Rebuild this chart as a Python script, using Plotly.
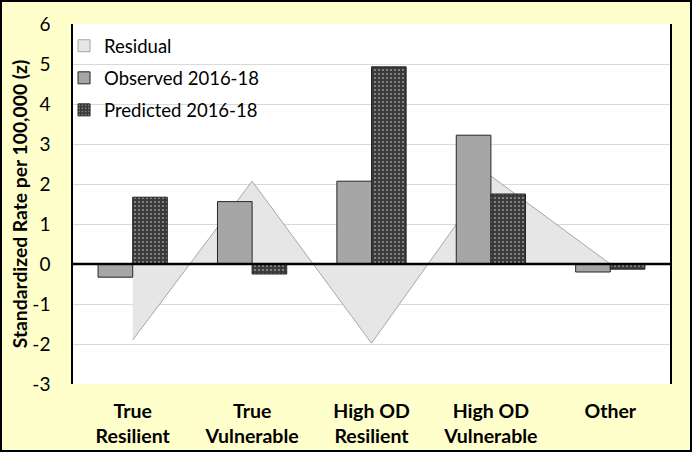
import plotly.graph_objects as go

categories = ["True<br>Resilient", "True<br>Vulnerable", "High OD<br>Resilient", "High OD<br>Vulnerable", "Other"]
residual = [-1.9, 2.07, -1.98, 2.2, 0.0]
observed = [-0.33, 1.56, 2.07, 3.22, -0.2]
predicted = [1.67, -0.25, 4.93, 1.75, -0.13]
y_ticks = [-3, -2, -1, 0, 1, 2, 3, 4, 5, 6]
y_tick_labels = ["-3", "-2", "-1", "0", "1", "2", "3", "4", "5", "6"]

FONT = "Lato"
RES_FILL, RES_LINE = "#E6E6E6", "#A6A6A6"

fig = go.Figure()
# residual area on the main axes (drawn below the bars)
fig.add_trace(go.Scatter(
    x=categories, y=residual, name="Residual", mode="lines",
    fill="tozeroy", fillcolor=RES_FILL,
    line=dict(color=RES_LINE, width=1),
    showlegend=False, xaxis="x", yaxis="y",
))
# legend swatch for the residual (square like the reference)
fig.add_trace(go.Bar(
    x=[categories[0]], y=[None], name="Residual",
    marker=dict(color=RES_FILL, line=dict(color=RES_LINE, width=1)),
    legendgroup="a", xaxis="x2", yaxis="y2",
))
fig.add_trace(go.Bar(
    x=categories, y=observed, name="Observed 2016-18",
    marker=dict(color="#A6A6A6", line=dict(color="#262626", width=1)),
    legendgroup="b", xaxis="x2", yaxis="y2", offsetgroup="obs",
))
fig.add_trace(go.Bar(
    x=categories, y=predicted, name="Predicted 2016-18",
    marker=dict(color="#3A3A3A", line=dict(color="#262626", width=1),
                pattern=dict(shape=".", fgcolor="#FFFFFF", bgcolor="#3A3A3A",
                             size=4, solidity=0.18)),
    legendgroup="c", xaxis="x2", yaxis="y2", offsetgroup="pred",
))

W, H = 692, 452
ml, mr, mt, mb = 73, 22, 24, 68
pw, ph = W - ml - mr, H - mt - mb

fig.update_layout(
    width=W, height=H,
    margin=dict(l=ml, r=mr, t=mt, b=mb, autoexpand=False),
    paper_bgcolor="#FFFFCC", plot_bgcolor="#FFFFFF",
    barmode="group", bargap=0.42, bargroupgap=0,
    font=dict(family=FONT, color="#000000", size=16),
    showlegend=True,
    legend=dict(x=-0.015, y=0.991, xanchor="left", yanchor="top",
                bgcolor="rgba(0,0,0,0)", font=dict(size=18.5, family=FONT),
                tracegroupgap=5, traceorder="grouped"),
    xaxis=dict(tickfont=dict(size=19.5, family=FONT, weight="bold"),
               showgrid=False, ticks="", showline=False, zeroline=False,
               automargin=False, ticklabelstandoff=13),
    xaxis2=dict(overlaying="x", matches="x", showticklabels=False, showgrid=False,
                showline=False, zeroline=False, ticks=""),
    yaxis=dict(range=[-3, 6], tickvals=y_ticks, ticktext=y_tick_labels,
               tickfont=dict(size=19, family=FONT),
               showgrid=True, gridcolor="#D9D9D9", gridwidth=1,
               zeroline=False,
               showline=True, mirror=True, linecolor="#000000", linewidth=1.5,
               ticks="", ticklabelstandoff=17, automargin=False,
               title=dict(text="<b>Standardized Rate per 100,000 (z)</b>",
                          font=dict(size=19.3, family=FONT), standoff=0)),
    yaxis2=dict(overlaying="y", range=[-3, 6], showticklabels=False, showgrid=False,
                showline=False, zeroline=False, ticks=""),
    shapes=[
        dict(type="line", xref="paper", yref="y", x0=0, x1=1, y0=0, y1=0,
             line=dict(color="#000000", width=2.5), layer="above"),
        dict(type="rect", xref="paper", yref="paper",
             x0=(-ml + 1) / pw, x1=1 + (mr - 1) / pw,
             y0=(-mb + 1) / ph, y1=1 + (mt - 1) / ph,
             line=dict(color="#000000", width=2), layer="above"),
    ],
)

fig.write_html("out.html", config={"displayModeBar": False},
               post_script="document.body.style.margin='0';document.body.style.overflow='hidden';")
